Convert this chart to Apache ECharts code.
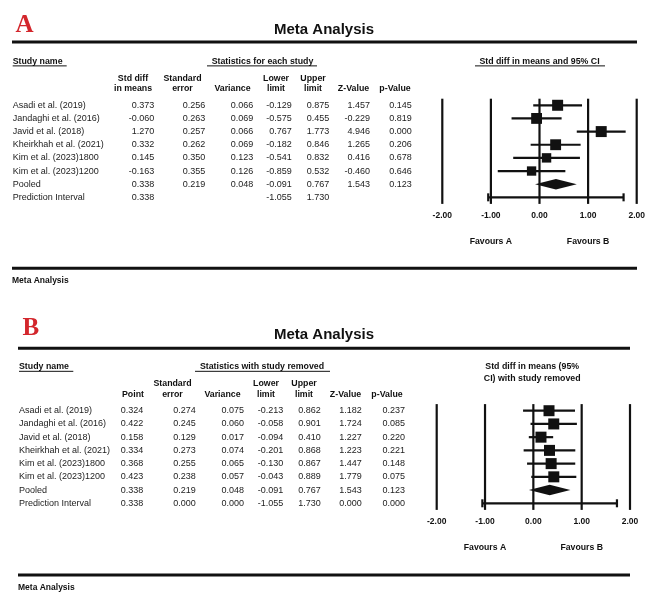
<!DOCTYPE html>
<html><head><meta charset="utf-8">
<script src="https://cdn.jsdelivr.net/npm/echarts@6/dist/echarts.min.js"></script>
<style>html,body{margin:0;padding:0;background:#fff}#c{width:669px;height:607px}</style>
</head><body><div id="c"></div>
<script>
// ---------------- DATA ----------------
const studyNames = ['Asadi et al. (2019)','Jandaghi et al. (2016)','Javid et al. (2018)','Kheirkhah et al. (2021)','Kim et al. (2023)1800','Kim et al. (2023)1200'];
const summaryNames = ['Pooled','Prediction Interval'];

// Panel A: statistics for each study
const aEst   = [0.373, -0.060, 1.270, 0.332, 0.145, -0.163];
const aSE    = [0.256, 0.263, 0.257, 0.262, 0.350, 0.355];
const aVar   = [0.066, 0.069, 0.066, 0.069, 0.123, 0.126];
const aLower = [-0.129, -0.575, 0.767, -0.182, -0.541, -0.859];
const aUpper = [0.875, 0.455, 1.773, 0.846, 0.832, 0.532];
const aZ     = [1.457, -0.229, 4.946, 1.265, 0.416, -0.460];
const aP     = [0.145, 0.819, 0.000, 0.206, 0.678, 0.646];

// Panel B: statistics with study removed
const bPoint = [0.324, 0.422, 0.158, 0.334, 0.368, 0.423];
const bSE    = [0.274, 0.245, 0.129, 0.273, 0.255, 0.238];
const bVar   = [0.075, 0.060, 0.017, 0.074, 0.065, 0.057];
const bLower = [-0.213, -0.058, -0.094, -0.201, -0.130, -0.043];
const bUpper = [0.862, 0.901, 0.410, 0.868, 0.867, 0.889];
const bZ     = [1.182, 1.724, 1.227, 1.223, 1.447, 1.779];
const bP     = [0.237, 0.085, 0.220, 0.221, 0.148, 0.075];

// Pooled and prediction interval: [est, se, var, lower, upper, z, p]
const pooled     = [0.338, 0.219, 0.048, -0.091, 0.767, 1.543, 0.123];
const predictA   = [0.338, null, null, -1.055, 1.730, null, null];
const predictB   = [0.338, 0.000, 0.000, -1.055, 1.730, 0.000, 0.000];

const axisTicks = [-2, -1, 0, 1, 2];
const favourLabels = ['Favours A', 'Favours B'];

// ---------------- STYLE ----------------
const FONT = '"Liberation Sans", Arial, sans-serif';
const INK = '#111';
const TXT = '#222';

const chart = echarts.init(document.getElementById('c'), null, {renderer: 'canvas'});

function forestData(est, lo, hi, sizes, pool, pred) {
  const d = est.map((e, i) => [e, lo[i], hi[i], i, 0, sizes[i]]);
  d.push([pool[0], pool[3], pool[4], est.length, 1, 10.5]);
  d.push([pred[0], pred[3], pred[4], est.length + 1, 2, 8]);
  return d;
}
const minSeA = Math.min.apply(null, aSE);
const sizesA = aSE.map(s => 11 * Math.sqrt(minSeA / s));
const sizesB = bSE.map(() => 11);

function renderForest(params, api) {
  const est = api.value(0), lo = api.value(1), hi = api.value(2), row = api.value(3);
  const kind = api.value(4), sz = api.value(5);
  const pL = api.coord([lo, row]), pH = api.coord([hi, row]), pE = api.coord([est, row]);
  const stroke = {stroke: INK, lineWidth: 2.2};
  if (kind === 0) {
    return {type: 'group', children: [
      {type: 'line', shape: {x1: pL[0], y1: pL[1], x2: pH[0], y2: pH[1]}, style: stroke},
      {type: 'rect', shape: {x: pE[0] - sz / 2, y: pE[1] - sz / 2, width: sz, height: sz}, style: {fill: INK}}
    ]};
  } else if (kind === 1) {
    const h = sz / 2;
    return {type: 'polygon', shape: {points: [[pL[0], pE[1]], [pE[0], pE[1] - h], [pH[0], pE[1]], [pE[0], pE[1] + h]]}, style: {fill: INK}};
  } else {
    const h = sz / 2;
    return {type: 'group', children: [
      {type: 'line', shape: {x1: pL[0], y1: pL[1], x2: pH[0], y2: pH[1]}, style: stroke},
      {type: 'line', shape: {x1: pL[0], y1: pL[1] - h, x2: pL[0], y2: pL[1] + h}, style: stroke},
      {type: 'line', shape: {x1: pH[0], y1: pH[1] - h, x2: pH[0], y2: pH[1] + h}, style: stroke}
    ]};
  }
}
function renderVLine(params, api) {
  const v = api.value(0);
  const a = api.coord([v, -0.5]), b = api.coord([v, 7.5]);
  return {type: 'line', shape: {x1: a[0], y1: a[1], x2: b[0], y2: b[1]}, style: {stroke: INK, lineWidth: 2.2}};
}

const xAxisBase = {
  type: 'value', min: -2, max: 2, interval: 1,
  axisLine: {show: false}, axisTick: {show: false}, splitLine: {show: false},
  axisLabel: {show: true, margin: 7, color: INK, fontFamily: FONT, fontWeight: 'bold', fontSize: 8.5,
              formatter: v => v.toFixed(2), showMinLabel: true, showMaxLabel: true}
};
const yAxisBase = {type: 'value', min: -0.5, max: 7.5, inverse: true, show: false};

chart.setOption({
  animation: false,
  grid: [
    {left: 442.3, top: 98.7, width: 194.4, height: 105.2},
    {left: 436.7, top: 404.1, width: 193.3, height: 105.8}
  ],
  xAxis: [Object.assign({gridIndex: 0}, xAxisBase), Object.assign({gridIndex: 1}, xAxisBase)],
  yAxis: [Object.assign({gridIndex: 0}, yAxisBase), Object.assign({gridIndex: 1}, yAxisBase)],
  series: [
    {type: 'custom', xAxisIndex: 0, yAxisIndex: 0, data: axisTicks.map(v => [v]), renderItem: renderVLine, silent: true},
    {type: 'custom', xAxisIndex: 0, yAxisIndex: 0, data: forestData(aEst, aLower, aUpper, sizesA, pooled, predictA), renderItem: renderForest, silent: true},
    {type: 'custom', xAxisIndex: 1, yAxisIndex: 1, data: axisTicks.map(v => [v]), renderItem: renderVLine, silent: true},
    {type: 'custom', xAxisIndex: 1, yAxisIndex: 1, data: forestData(bPoint, bLower, bUpper, sizesB, pooled, predictB), renderItem: renderForest, silent: true}
  ]
});

// ---------------- TABLE TEXT (graphics) ----------------
const G = [];
function txt(text, x, y, opt) {
  opt = opt || {};
  G.push({type: 'text', x: x, y: y, silent: true, style: {
    text: text, fill: opt.fill || TXT,
    font: (opt.weight || 'normal') + ' ' + (opt.size || 9) + 'px ' + (opt.family || FONT),
    textAlign: opt.align || 'left', textVerticalAlign: opt.valign || 'middle'
  }});
}
function hline(x1, x2, y, w) {
  G.push({type: 'line', silent: true, shape: {x1: x1, y1: y, x2: x2, y2: y}, style: {stroke: INK, lineWidth: w}});
}
const fmt = v => (v === null || v === undefined) ? '' : v.toFixed(3);

function buildPanel(p) {
  const yIdx = p.axis;
  const rowY = i => chart.convertToPixel({yAxisIndex: yIdx}, i);
  const xPix = v => chart.convertToPixel({xAxisIndex: yIdx}, v);
  const r0 = rowY(0);
  // big letter
  txt(p.letter, p.letterX, p.letterMid, {fill: '#d3262c', weight: 'bold', size: 25, family: '"Liberation Serif", "Times New Roman", serif'});
  // title
  txt('Meta Analysis', 324, p.titleY, {fill: INK, weight: 'bold', size: 15, align: 'center'});
  hline(p.left, p.right, p.topLine, 3);
  hline(p.left, p.right, p.botLine, 3);
  txt('Meta Analysis', p.left, p.botLine + 12.7, {fill: INK, weight: 'bold', size: 8.5});
  // section headers
  const sy = r0 - 44;
  txt('Study name', p.textLeft, sy, {fill: INK, weight: 'bold', size: 8.8});
  hline(p.textLeft, p.snUnder, sy + 4.6, 1);
  txt(p.section, p.secCenter, sy, {fill: INK, weight: 'bold', size: 8.8, align: 'center'});
  hline(p.secU1, p.secU2, sy + 4.6, 1);
  if (p.forestTitle.length === 1) {
    txt(p.forestTitle[0], p.ftCenter, sy, {fill: INK, weight: 'bold', size: 8.8, align: 'center'});
    hline(p.ftU1, p.ftU2, sy + 4.6, 1);
  } else {
    txt(p.forestTitle[0], p.ftCenter, sy, {fill: INK, weight: 'bold', size: 8.8, align: 'center'});
    txt(p.forestTitle[1], p.ftCenter, sy + 12, {fill: INK, weight: 'bold', size: 8.8, align: 'center'});
  }
  // column headers and values
  const names = studyNames.concat(summaryNames);
  names.forEach((n, i) => txt(n, p.textLeft, rowY(i), {}));
  p.cols.forEach(c => {
    if (c.h.length === 2) {
      txt(c.h[0], c.hc, r0 - 27, {fill: INK, weight: 'bold', size: 8.8, align: 'center'});
      txt(c.h[1], c.hc, r0 - 16.5, {fill: INK, weight: 'bold', size: 8.8, align: 'center'});
    } else {
      txt(c.h[0], c.hc, r0 - 16.5, {fill: INK, weight: 'bold', size: 8.8, align: 'center'});
    }
    c.v.forEach((v, i) => txt(fmt(v), c.right, rowY(i), {align: 'right'}));
  });
  // favours labels
  const fy = chart.convertToPixel({yAxisIndex: yIdx}, 7.5) + 37.5;
  txt(favourLabels[0], xPix(-1), fy, {fill: INK, weight: 'bold', size: 8.7, align: 'center'});
  txt(favourLabels[1], xPix(1), fy, {fill: INK, weight: 'bold', size: 8.7, align: 'center'});
}
const colOf = (arr, k, pred) => arr.concat([pooled[k], pred[k]]);

buildPanel({
  axis: 0, letter: 'A', letterX: 15.5, letterMid: 25.5, titleY: 29.5,
  left: 12, right: 637, topLine: 42, botLine: 268.3, textLeft: 12.7, snUnder: 66.7,
  section: 'Statistics for each study', secCenter: 262.5, secU1: 207, secU2: 317,
  forestTitle: ['Std diff in means and 95% CI'], ftCenter: 539.5, ftU1: 475, ftU2: 605,
  cols: [
    {h: ['Std diff', 'in means'], hc: 133, right: 154.3, v: colOf(aEst, 0, predictA)},
    {h: ['Standard', 'error'], hc: 182.5, right: 205.3, v: colOf(aSE, 1, predictA)},
    {h: ['Variance'], hc: 232.5, right: 253.3, v: colOf(aVar, 2, predictA)},
    {h: ['Lower', 'limit'], hc: 276, right: 291.7, v: colOf(aLower, 3, predictA)},
    {h: ['Upper', 'limit'], hc: 313, right: 329.3, v: colOf(aUpper, 4, predictA)},
    {h: ['Z-Value'], hc: 353.5, right: 370, v: colOf(aZ, 5, predictA)},
    {h: ['p-Value'], hc: 395, right: 411.7, v: colOf(aP, 6, predictA)}
  ]
});
buildPanel({
  axis: 1, letter: 'B', letterX: 22.5, letterMid: 329, titleY: 335,
  left: 18, right: 630, topLine: 348.3, botLine: 575, textLeft: 19, snUnder: 73.3,
  section: 'Statistics with study removed', secCenter: 262, secU1: 195, secU2: 330,
  forestTitle: ['Std diff in means (95%', 'CI) with study removed'], ftCenter: 532.2,
  cols: [
    {h: ['Point'], hc: 133, right: 143.3, v: colOf(bPoint, 0, predictB)},
    {h: ['Standard', 'error'], hc: 172.5, right: 195.7, v: colOf(bSE, 1, predictB)},
    {h: ['Variance'], hc: 222.5, right: 244, v: colOf(bVar, 2, predictB)},
    {h: ['Lower', 'limit'], hc: 266, right: 283.3, v: colOf(bLower, 3, predictB)},
    {h: ['Upper', 'limit'], hc: 304, right: 320.7, v: colOf(bUpper, 4, predictB)},
    {h: ['Z-Value'], hc: 345.5, right: 361.7, v: colOf(bZ, 5, predictB)},
    {h: ['p-Value'], hc: 387, right: 405, v: colOf(bP, 6, predictB)}
  ]
});
chart.setOption({graphic: G});
</script>
</body></html>
